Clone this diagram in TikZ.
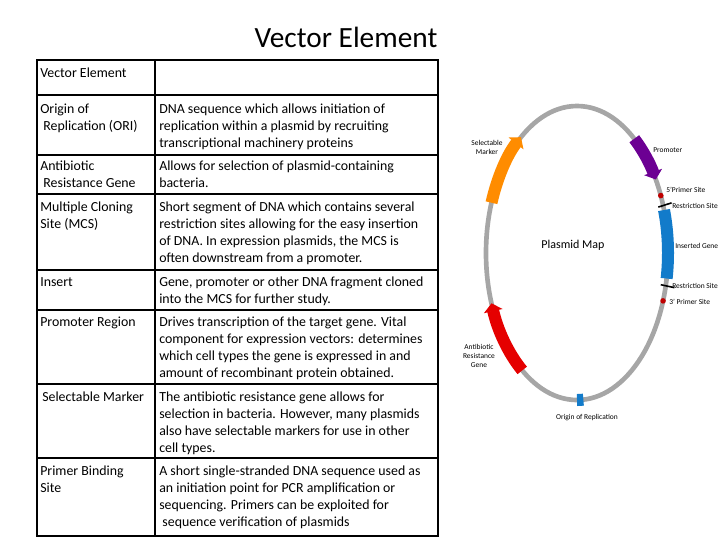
\documentclass[tikz,border=0pt]{standalone}
\usepackage{fontspec}
\setmainfont{Carlito}
\usetikzlibrary{arrows.meta,calc}
\begin{document}
\begin{tikzpicture}[x=0.75pt,y=-0.75pt,
  cell/.style={anchor=north west,font=\fontsize{10.4pt}{12.75pt}\selectfont,align=left,inner sep=0pt,yshift=-2.2pt},
  lab/.style={font=\fontsize{5.6pt}{6.8pt}\selectfont,align=center,inner sep=0pt},
  seg/.style={line width=9pt}]
\useasboundingbox (0,0) rectangle (720,540);
\node[font=\fontsize{22pt}{24pt}\selectfont] (title) at (346,37) {Vector Element};
% table
\draw[line width=0.8pt] (37,60) rectangle (438,536);
\draw[line width=0.8pt] (155,60) -- (155,95);
\draw[line width=0.8pt] (155,95) -- (155,536);
\foreach \yy in {95,155,194,270,310,384,458} \draw[line width=0.8pt] (37,\yy) -- (438,\yy);
\node[cell] (r0) at (40,65) {Vector Element};
\node[cell] (r1a) at (40,101) {Origin of\\\hphantom{i}Replication (ORI)};
\node[cell] (r1b) at (159,101) {DNA sequence which allows initiation of\\replication within a plasmid by recruiting\\transcriptional machinery proteins};
\node[cell] (r2a) at (40,158) {Antibiotic\\\hphantom{i}Resistance Gene};
\node[cell] (r2b) at (159,158) {Allows for selection of plasmid-containing\\bacteria.};
\node[cell] (r3a) at (40,199) {Multiple Cloning\\Site (MCS)};
\node[cell] (r3b) at (159,199) {Short segment of DNA which contains several\\restriction sites allowing for the easy insertion\\of DNA. In expression plasmids, the MCS is\\often downstream from a promoter.};
\node[cell] (r4a) at (40,274) {Insert};
\node[cell] (r4b) at (159,274) {Gene, promoter or other DNA fragment cloned\\into the MCS for further study.};
\node[cell] (r5a) at (40,314) {Promoter Region};
\node[cell] (r5b) at (159,314) {Drives transcription of the target gene. Vital\\component for expression vectors: determines\\which cell types the gene is expressed in and\\amount of recombinant protein obtained.};
\node[cell] (r6a) at (42,389) {Selectable Marker};
\node[cell] (r6b) at (159,389) {The antibiotic resistance gene allows for\\selection in bacteria. However, many plasmids\\also have selectable markers for use in other\\cell types.};
\node[cell] (r7a) at (40,463) {Primer Binding\\Site};
\node[cell] (r7b) at (159,463) {A short single-stranded DNA sequence used as\\an initiation point for PCR amplification or\\sequencing. Primers can be exploited for\\\hphantom{i}sequence verification of plasmids};
% plasmid map
\coordinate (c) at (577,253);
\draw[gray!70,line width=3.5pt] (c) ellipse [x radius=91, y radius=147];
\begin{scope}[y=0.75pt]
\coordinate (cc) at (577,-253);
\draw[seg,orange!90!yellow,-{Triangle[length=6pt,width=14pt]}] ($(cc)+(160:91 and 147)$) arc[start angle=160,end angle=128,x radius=91,y radius=147];
\draw[seg,violet!85!blue,-{Triangle[length=6pt,width=14pt]}] ($(cc)+(51:91 and 147)$) arc[start angle=51,end angle=30,x radius=91,y radius=147];
\draw[seg,red!90!black,-{Triangle[length=6pt,width=14pt]}] ($(cc)+(233:91 and 147)$) arc[start angle=233,end angle=200,x radius=91,y radius=147];
\draw[seg,cyan!60!blue] ($(cc)+(17:91 and 147)$) arc[start angle=17,end angle=-10,x radius=91,y radius=147];
\draw[seg,cyan!60!blue] ($(cc)+(-86:91 and 147)$) arc[start angle=-86,end angle=-90,x radius=91,y radius=147];
\fill[red!75!black] ($(cc)+(23:91 and 147)$) circle (2.8);
\fill[red!75!black] ($(cc)+(-19:91 and 147)$) circle (2.8);
\draw[black,line width=1.2pt] ($(cc)+(19:86 and 141)$) -- ($(cc)+(19:100 and 154)$);
\draw[black,line width=1.2pt] ($(cc)+(-13:86 and 141)$) -- ($(cc)+(-13:100 and 154)$);
\end{scope}
\node[font=\fontsize{9pt}{10pt}\selectfont] (pm) at (573,245) {Plasmid Map};
\node[lab] (l1) at (487,147) {Selectable\\Marker};
\node[lab,anchor=west] (l2) at (653,150) {Promoter};
\node[lab,anchor=west] (l3) at (666,190) {5'Primer Site};
\node[lab,anchor=east] (l4) at (718,206) {Restriction Site};
\node[lab,anchor=west] (l5) at (675,246) {Inserted Gene};
\node[lab,anchor=east] (l6) at (718,286) {Restriction Site};
\node[lab,anchor=west] (l7) at (669,302) {3' Primer Site};
\node[lab] (l8) at (479,356) {Antibiotic\\Resistance\\Gene};
\node[lab] (l9) at (587,418) {Origin of Replication};
\end{tikzpicture}
\end{document}
